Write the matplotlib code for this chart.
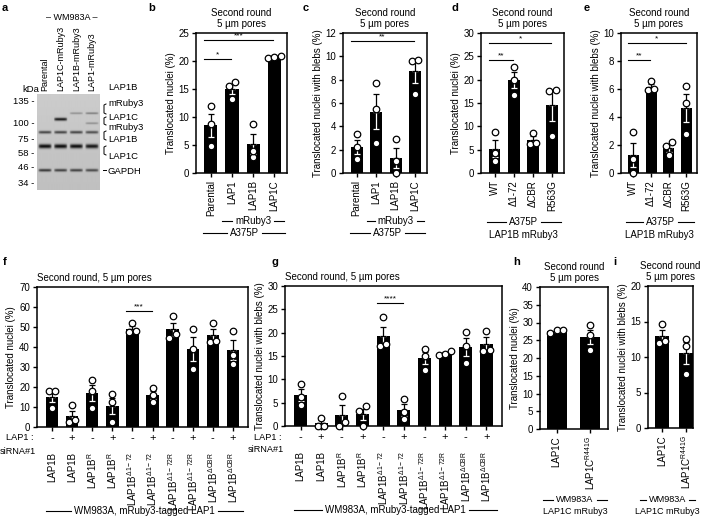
import numpy as np
import matplotlib
matplotlib.use('Agg')
import matplotlib.pyplot as plt
from matplotlib.lines import Line2D

plt.rcParams['font.family'] = ['Liberation Sans', 'DejaVu Sans']
plt.rcParams['font.size'] = 7
plt.rcParams['mathtext.fontset'] = 'custom'
plt.rcParams['mathtext.rm'] = 'Liberation Sans'
plt.rcParams['mathtext.it'] = 'Liberation Sans:italic'
plt.rcParams['mathtext.bf'] = 'Liberation Sans:bold'
plt.rcParams['axes.linewidth'] = 1.1

# ---------------- data ----------------
# a: western blot
blot_lanes = ['Parental', 'LAP1C-mRuby3', 'LAP1B-mRuby3', 'LAP1-mRuby3']
blot_kda = [135, 100, 75, 58, 46, 34]
blot_kda_row = [100, 122, 138, 153, 167, 182]
band_row = [113, 119, 123, 132, 146, 170]
band_level = [[0, 0, 0.3, 0.4],
              [0, 0.95, 0, 0],
              [0, 0, 0, 0.3],
              [0.7, 0.7, 0.7, 0.65],
              [1.0, 1.0, 1.0, 0.95],
              [0.75, 0.7, 0.7, 0.65]]
band_sigma = [1.0, 1.5, 1.0, 1.4, 2.1, 1.4]

# b, c: A375P mRuby3 constructs
bc_labels = ['Parental', 'LAP1', 'LAP1B', 'LAP1C']
b_points = [[12.0, 8.8, 4.8], [16.3, 15.6, 13.2], [8.7, 4.0, 2.8], [20.5, 20.9, 20.8]]
b_sig = [(0, 1, 20.4, '*'), (0, 3, 23.8, '***')]
c_points = [[3.3, 2.2, 1.2], [7.7, 5.5, 2.6], [2.9, 1.0, 0.0], [9.7, 9.6, 6.8]]
c_sig = [(0, 3, 11.3, '**')]

# d, e: LAP1B mutants
de_labels = ['WT', 'Δ1-72', 'ΔCBR', 'R563G']
d_points = [[8.8, 4.3, 2.6], [22.8, 20.0, 16.8], [8.6, 6.2, 6.5], [17.8, 17.6, 8.0]]
d_sig = [(0, 1, 24.2, '**'), (0, 3, 27.8, '*')]
e_points = [[2.9, 1.0, 0.0], [6.6, 6.0, 5.9], [2.2, 1.9, 1.3], [6.2, 5.0, 2.8]]
e_sig = [(0, 1, 8.1, '**'), (0, 3, 9.3, '*')]

# f, g: siRNA rescue
fg_labels = ['LAP1B', 'LAP1B', r'LAP1B$^{\mathrm{R}}$', r'LAP1B$^{\mathrm{R}}$',
             r'LAP1B$^{\Delta\mathrm{1-72}}$', r'LAP1B$^{\Delta\mathrm{1-72}}$',
             r'LAP1B$^{\Delta\mathrm{1-72R}}$', r'LAP1B$^{\Delta\mathrm{1-72R}}$',
             r'LAP1B$^{\Delta\mathrm{CBR}}$', r'LAP1B$^{\Delta\mathrm{CBR}}$']
fg_sirna = ['-', '+', '-', '+', '-', '+', '-', '+', '-', '+']
f_points = [[18, 18, 9.5], [10.8, 3.5, 2.5], [23.5, 18, 9.5], [16.5, 12.5, 2.5],
            [52, 48, 47.5], [19.5, 16, 12.5], [55.5, 46.5, 44.5], [49, 39, 29],
            [52, 43, 42.5], [48, 36, 31.5]]
f_sig = [(4, 5, 58, '***')]
g_points = [[9.0, 6.3, 4.6], [1.8, 0.0, 0.0], [6.5, 0.8, 0.0], [4.2, 3.2, 0.0],
            [23.3, 17.5, 17.2], [5.7, 3.0, 1.5], [16.6, 15.0, 12.0], [16.0, 15.4, 15.2],
            [20.2, 17.2, 13.6], [20.4, 16.0, 16.3]]
g_sig = [(4, 5, 26.3, '****')]

# h, i: LAP1C mutant
hi_labels = ['LAP1C', r'LAP1C$^{\mathrm{R441G}}$']
h_points = [[27.0, 28.0, 28.0], [29.2, 26.5, 22.3]]
i_points = [[14.6, 12.3, 12.0], [12.6, 11.6, 7.6]]

# ---------------- figure ----------------
W, H = 701, 519
fig = plt.figure(figsize=(W / 100, H / 100), dpi=100)
renderer = fig.canvas.get_renderer()


def add_ax(x0, y0, x1, y1):
    return fig.add_axes([x0 / W, 1 - y1 / H, (x1 - x0) / W, (y1 - y0) / H])


def ftext(x, y, s, **kw):
    return fig.text(x / W, 1 - y / H, s, **kw)


def fline(xs, ys, lw=0.8):
    fig.add_artist(Line2D([v / W for v in xs], [1 - v / H for v in ys], color='black', lw=lw))


def span_px(x0, x1, y, s, gap=3, **kw):
    t = ftext((x0 + x1) / 2, y, s, ha='center', va='center', **kw)
    bb = t.get_window_extent(renderer)
    fline([x0, bb.x0 - gap], [y, y])
    fline([bb.x1 + gap, x1], [y, y])


def span_label(ax, xa, xb, y, s, gap=3):
    x0 = ax.transData.transform((xa, 0))[0]
    x1 = ax.transData.transform((xb, 0))[0]
    span_px(x0, x1, y, s, gap)


def bar_panel(ax, points, xlim, ylim, yticks, sig, ylabel, width=0.62):
    n = len(points)
    x = np.arange(n)
    means = np.array([np.mean(p) for p in points])
    sems = np.array([np.std(p, ddof=1) / np.sqrt(len(p)) for p in points])
    ax.set_xlim(*xlim)
    ax.set_ylim(*ylim)
    ax.bar(x, means, width=width, color='black', zorder=2)
    z = np.zeros(n)
    ax.errorbar(x, means, yerr=[sems, z], fmt='none', ecolor='white',
                elinewidth=0.9, capsize=2, capthick=0.9, zorder=3)
    ax.errorbar(x, means, yerr=[z, sems], fmt='none', ecolor='black',
                elinewidth=0.9, capsize=2, capthick=0.9, zorder=4)
    pos = ax.get_position()
    xpx = pos.width * W / (xlim[1] - xlim[0])
    ypx = pos.height * H / (ylim[1] - ylim[0])
    d = 6.3
    for i, p in enumerate(points):
        vals = np.sort(p)
        rows = [[vals[0]]]
        for v in vals[1:]:
            if (v - rows[-1][0]) * ypx < d:
                rows[-1].append(v)
            else:
                rows.append([v])
        for r in rows:
            offs = (np.arange(len(r)) - (len(r) - 1) / 2) * d / xpx
            ax.plot(i + offs, r, 'o', mfc='white', mec='black', ms=4.7, mew=0.9,
                    clip_on=False, zorder=5)
    for a, b, y, s in sig:
        ax.plot([a - 0.3, b - 0.05], [y, y], color='black', lw=0.8, zorder=6)
        ax.text((a - 0.3 + b - 0.05) / 2, y + (ylim[1] - ylim[0]) * 0.005, s,
                ha='center', va='bottom', fontsize=6)
    ax.set_yticks(yticks)
    ax.set_xticks(x)
    ax.tick_params(direction='out', length=3, width=1.0, labelsize=7, pad=2)
    ax.set_ylabel(ylabel, labelpad=2)


title2 = 'Second round\n5 \u00b5m pores'
lab_nuc = 'Translocated nuclei (%)'
lab_bleb = 'Translocated nuclei with blebs (%)'

# ---- a ----
axa = add_ax(37, 94, 100, 190)
rows = np.arange(94, 190, 0.5)
cols = np.linspace(0.5, 4.5, 160)
img = np.full((len(rows), len(cols)), 0.80)
img -= 0.05 * (rows[:, None] - 94) / 96
for r, lev, sg in zip(band_row, band_level, band_sigma):
    for li, L in enumerate(lev):
        if L == 0:
            continue
        lane = np.clip(1 - (np.abs(cols - (li + 1)) / 0.44) ** 6, 0, 1)
        img -= 0.72 * L * np.exp(-((rows[:, None] - r) / sg) ** 2) * lane[None, :]
axa.imshow(np.clip(img, 0.05, 1), extent=(0.5, 4.5, 190, 94), aspect='auto',
           cmap='gray', vmin=0, vmax=1)
axa.set_xlim(0.5, 4.5)
axa.set_ylim(190, 94)
axa.set_xticks([])
axa.set_yticks(blot_kda_row, [f'{k} -' for k in blot_kda])
axa.tick_params(length=0, pad=2, labelsize=6.8)
for s in axa.spines.values():
    s.set_visible(False)
for i, name in enumerate(blot_lanes):
    axa.text(i + 1, 91, name, rotation=90, ha='center', va='bottom', fontsize=6.5)
ftext(31, 89, 'kDa', ha='center', va='center', fontsize=6.8)
ftext(72, 17, '\u2013 WM983A \u2013', ha='center', va='center', fontsize=6.5)
for s, y in zip(['LAP1B', 'mRuby3', 'LAP1C', 'mRuby3', 'LAP1B', 'LAP1C', 'GAPDH'],
                [87, 103, 117, 128, 140, 156, 172]):
    ftext(108, y, s, ha='left', va='center', fontsize=6.8)
for y0, y1 in [(104, 114), (117, 125), (131, 140), (146, 155)]:
    fline([106, 104, 104, 106], [y0, y0 + 1, y1 - 1, y1], lw=0.7)
fline([103, 106], [170, 170], lw=0.7)

# ---- b ----
axb = add_ax(196, 33, 287, 173)
bar_panel(axb, b_points, (-0.7, 3.6), (0, 25), range(0, 26, 5), b_sig, lab_nuc)
axb.set_xticklabels(bc_labels, rotation=90)
axb.set_title(title2, fontsize=7, pad=4)
span_label(axb, 0.55, 3.45, 221, 'mRuby3')
span_label(axb, -0.35, 3.5, 233, 'A375P')

# ---- c ----
axc = add_ax(343, 33, 427, 173)
bar_panel(axc, c_points, (-0.7, 3.6), (0, 12), range(0, 13, 2), c_sig, lab_bleb)
axc.set_xticklabels(bc_labels, rotation=90)
axc.set_title(title2, fontsize=7, pad=4)
span_label(axc, 0.55, 3.45, 221, 'mRuby3')
span_label(axc, -0.35, 3.5, 233, 'A375P')

# ---- d ----
axd = add_ax(481, 33, 564, 173)
bar_panel(axd, d_points, (-0.7, 3.6), (0, 30), range(0, 31, 5), d_sig, lab_nuc)
axd.set_xticklabels(de_labels, rotation=90)
axd.set_title(title2, fontsize=7, pad=4)
span_label(axd, -0.4, 3.45, 222, 'A375P')
ftext(axd.transData.transform((1.5, 0))[0], 235, 'LAP1B mRuby3', ha='center', va='center')

# ---- e ----
axe = add_ax(621, 33, 697, 173)
bar_panel(axe, e_points, (-0.7, 3.6), (0, 10), range(0, 11, 2), e_sig, lab_bleb)
axe.set_xticklabels(de_labels, rotation=90)
axe.set_title(title2, fontsize=7, pad=4)
span_label(axe, -0.4, 3.45, 222, 'A375P')
ftext(axe.transData.transform((1.5, 0))[0], 235, 'LAP1B mRuby3', ha='center', va='center')

# ---- f, g ----
for ax_box, pts, ylim, yt, sig, lab in [((37, 287, 248, 427), f_points, (0, 70), range(0, 71, 10), f_sig, lab_nuc),
                                        ((285, 286, 502, 426), g_points, (0, 30), range(0, 31, 5), g_sig, lab_bleb)]:
    ax = add_ax(*ax_box)
    bar_panel(ax, pts, (-0.75, 9.75), ylim, yt, sig, lab)
    ax.set_xticklabels(fg_labels, rotation=90)
    ax.tick_params(axis='x', pad=15)
    ax.set_title('Second round, 5 \u00b5m pores', loc='left', fontsize=7, pad=4)
    ybot = ax_box[3]
    for i, s in enumerate(fg_sirna):
        ftext(ax.transData.transform((i, 0))[0], ybot + 11, s, ha='center', va='center',
              fontsize=8)
    ftext(ax_box[0] - 3, ybot + 11, 'LAP1 :', ha='right', va='center', fontsize=6.6)
    ftext(ax_box[0] - 1, ybot + 24, 'siRNA#1', ha='right', va='center', fontsize=6.6)
    span_label(ax, -0.3, 9.5, ybot + 84, 'WM983A, mRuby3-tagged LAP1')

# ---- h, i ----
for ax_box, pts, xlim, ylim, yt, lab, span in [((540, 287, 608, 429), h_points, (-0.5, 1.55), (0, 40), range(0, 41, 5), lab_nuc, (543, 607)),
                                               ((648, 286, 693, 428), i_points, (-0.6, 1.3), (0, 20), range(0, 21, 5), lab_bleb, (640, 695))]:
    ax = add_ax(*ax_box)
    bar_panel(ax, pts, xlim, ylim, yt, [], lab, width=0.6)
    ax.set_xticklabels(hi_labels, rotation=90)
    ax.set_title(title2, fontsize=7, pad=4)
    span_px(span[0], span[1], 500, 'WM983A', fontsize=6.6)
    ftext((span[0] + span[1]) / 2, 512, 'LAP1C mRuby3', ha='center', va='center', fontsize=6.5)

# panel letters
for s, x, y in [('a', 2, 8), ('b', 148, 8), ('c', 303, 8), ('d', 452, 8), ('e', 584, 8),
                ('f', 3, 262), ('g', 271, 262), ('h', 513, 262), ('i', 613, 262)]:
    ftext(x, y, s, ha='left', va='center', fontsize=8, fontweight='bold')

fig.savefig('out.png', dpi=100)
